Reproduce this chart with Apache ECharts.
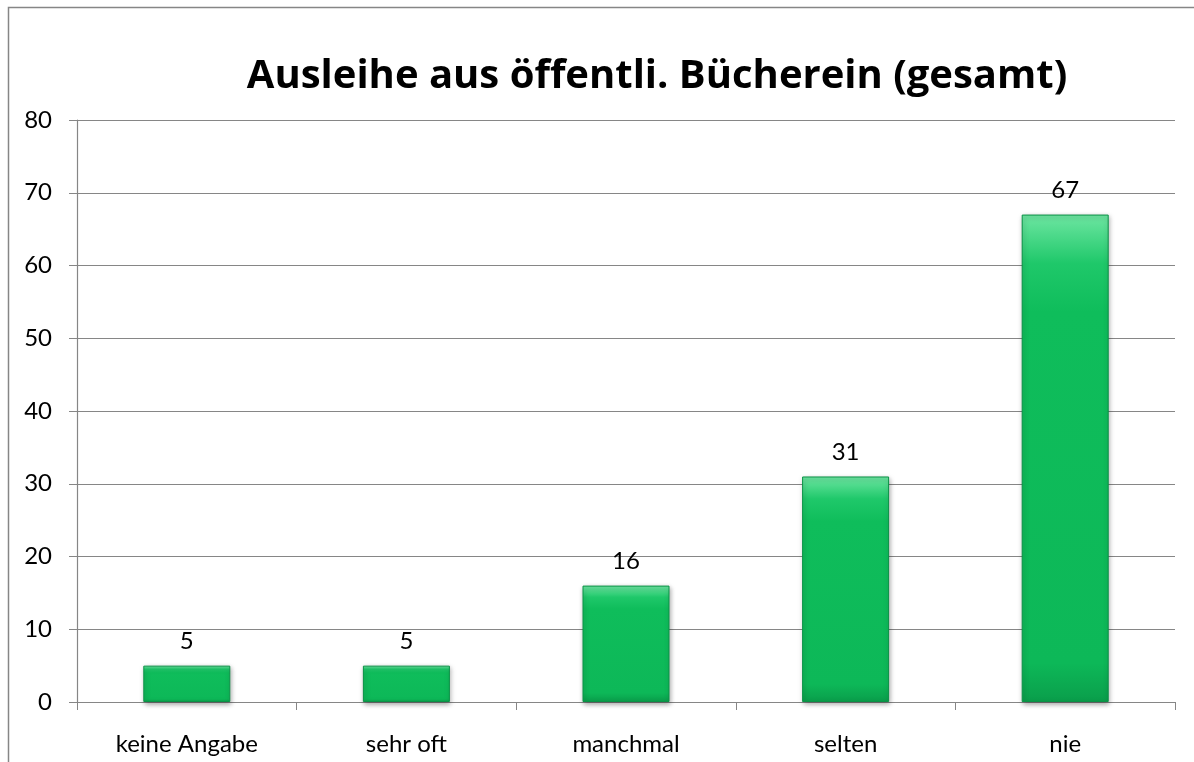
<!DOCTYPE html>
<html>
<head>
<meta charset="utf-8">
<style>
  html, body { margin: 0; padding: 0; background: #fff; }
  #chart { width: 1194px; height: 762px; }
</style>
<script src="https://cdn.jsdelivr.net/npm/echarts@6/dist/echarts.min.js"></script>
</head>
<body>
<div id="chart"></div>
<script>
const categories = ["keine Angabe", "sehr oft", "manchmal", "selten", "nie"];
const values = [5, 5, 16, 31, 67];
const titleText = "Ausleihe aus öffentli. Bücherein (gesamt)";

const chart = echarts.init(document.getElementById("chart"));

const option = {
  animation: false,
  textStyle: { fontFamily: "Lato, 'Open Sans', sans-serif" },
  title: {
    text: titleText,
    left: 652,
    top: 52,
    textAlign: "center",
    textStyle: {
      fontFamily: "'Open Sans', Lato, sans-serif",
      fontSize: 40,
      fontWeight: "bold",
      color: "#000",
    },
  },
  graphic: [
    {
      // outer chart frame (right and bottom edges are cut off)
      type: "polyline",
      shape: { points: [[8.5, 762], [8.5, 7.5], [1194, 7.5]] },
      style: { stroke: "#868686", lineWidth: 1.5, fill: null },
    },
  ],
  grid: { left: 77, right: 19, top: 120, bottom: 60 },
  xAxis: {
    type: "category",
    data: categories,
    axisLine: { lineStyle: { color: "#868686", width: 1.2 } },
    axisTick: { show: true, length: 8, lineStyle: { color: "#868686" } },
    axisLabel: { color: "#000", fontSize: 24, margin: 30 },
  },
  yAxis: {
    type: "value",
    min: 0,
    max: 80,
    interval: 10,
    axisLine: { show: true, lineStyle: { color: "#868686", width: 1.2 } },
    axisTick: { show: true, inside: false, length: 8, lineStyle: { color: "#868686" } },
    axisLabel: { color: "#000", fontSize: 24, margin: 25 },
    splitLine: { lineStyle: { color: "#868686", width: 1.2 } },
  },
  series: [
    {
      type: "bar",
      data: values,
      barWidth: 87,
      itemStyle: {
        color: new echarts.graphic.LinearGradient(0, 0, 0, 1, [
          { offset: 0, color: "#6ee6a2" },
          { offset: 0.1, color: "#1fc86a" },
          { offset: 0.2, color: "#0fbd5b" },
          { offset: 0.92, color: "#0db858" },
          { offset: 1, color: "#0a9e4b" },
        ]),
        borderColor: "#0a9246",
        borderWidth: 1,
        shadowColor: "rgba(0,0,0,0.35)",
        shadowBlur: 5,
        shadowOffsetX: 1,
        shadowOffsetY: 2,
      },
      label: {
        show: true,
        position: "top",
        distance: 12,
        color: "#000",
        fontSize: 24,
      },
    },
  ],
};

chart.setOption(option);
</script>
</body>
</html>
